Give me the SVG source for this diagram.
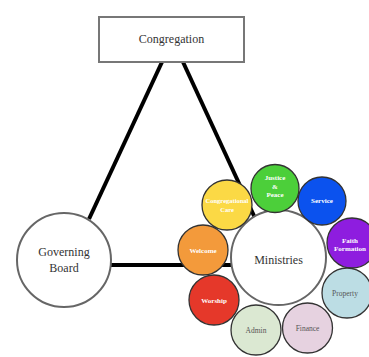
<svg xmlns="http://www.w3.org/2000/svg" width="369" height="357" viewBox="0 0 369 357">
<style>
.bg{fill:#fff}
.conn{stroke:#000;stroke-width:4;fill:none}
.box{fill:#fff;stroke:#777;stroke-width:2}
.big{fill:#fff;stroke:#666;stroke-width:2}
.sm{stroke:#333;stroke-width:1.3}
.t{font-family:"Liberation Serif",serif;fill:#333;text-anchor:middle}
.tl{font-size:12px}
.tw{font-family:"Liberation Serif",serif;fill:#fff;text-anchor:middle;font-weight:bold;font-size:7px}
.td{font-family:"Liberation Serif",serif;fill:#555;text-anchor:middle;font-size:7.5px}
</style>
<rect class="bg" x="0" y="0" width="369" height="357"/>
<g id="connectors">
<line class="conn" x1="162" y1="62" x2="89" y2="219"/>
<line class="conn" x1="183" y1="62" x2="255" y2="218"/>
<line class="conn" x1="110" y1="265" x2="233" y2="265"/>
</g>
<g id="congregation">
<rect class="box" x="99" y="17" width="145" height="45"/>
<text class="t tl" x="171.5" y="43">Congregation</text>
</g>
<g id="governing-board">
<circle class="big" cx="64" cy="260" r="47"/>
<text class="t tl" x="64" y="255.5">Governing</text>
<text class="t tl" x="64" y="272">Board</text>
</g>
<g id="ministries">
<circle class="big" cx="278.5" cy="257.5" r="47.5"/>
<text class="t tl" x="278.5" y="264">Ministries</text>
</g>
<g id="justice-peace">
<circle class="sm" cx="275" cy="188.5" r="24" fill="#4ccf3a"/>
<text class="tw" x="275" y="179.5">Justice</text>
<text class="tw" x="275" y="188.5">&amp;</text>
<text class="tw" x="275" y="197">Peace</text>
</g>
<g id="congregational-care">
<circle class="sm" cx="227" cy="205" r="25" fill="#fbd945"/>
<text class="tw" x="227" y="203" style="font-size:6.5px">Congregational</text>
<text class="tw" x="227" y="211.5" style="font-size:6.5px">Care</text>
</g>
<g id="service">
<circle class="sm" cx="322" cy="201" r="24" fill="#0b52ee"/>
<text class="tw" x="322" y="203">Service</text>
</g>
<g id="faith-formation">
<circle class="sm" cx="352" cy="243" r="25" fill="#8e1ddf"/>
<text class="tw" x="350" y="242.5">Faith</text>
<text class="tw" x="350" y="250.5">Formation</text>
</g>
<g id="welcome">
<circle class="sm" cx="203" cy="250" r="25" fill="#f39a3b"/>
<text class="tw" x="203" y="252.5">Welcome</text>
</g>
<g id="worship">
<circle class="sm" cx="214" cy="300" r="25" fill="#e5382a"/>
<text class="tw" x="214" y="302.5">Worship</text>
</g>
<g id="property">
<circle class="sm" cx="347" cy="293" r="25" fill="#bcdde4"/>
<text class="td" x="345" y="295.5">Property</text>
</g>
<g id="admin">
<circle class="sm" cx="256" cy="330" r="25" fill="#dbe8d2"/>
<text class="td" x="256" y="332.5">Admin</text>
</g>
<g id="finance">
<circle class="sm" cx="307.5" cy="328" r="25" fill="#e6d2e0"/>
<text class="td" x="307.5" y="330.5">Finance</text>
</g>
</svg>
